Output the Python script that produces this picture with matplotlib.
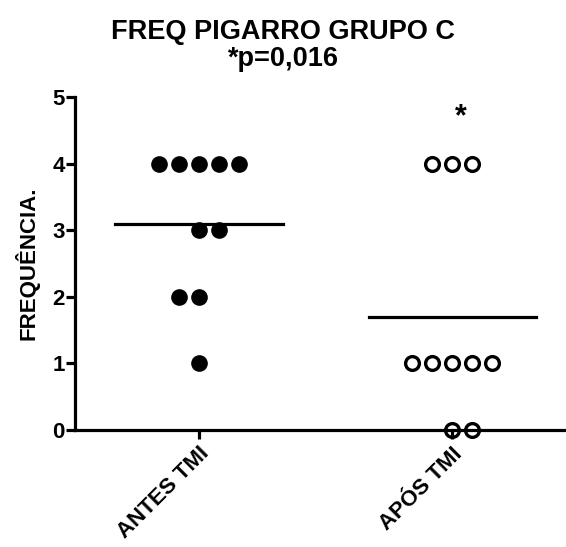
import numpy as np
import matplotlib
matplotlib.use("Agg")
import matplotlib.pyplot as plt

groups = ["ANTES TMI", "APÓS TMI"]
antes = [4, 4, 4, 4, 4, 3, 3, 2, 2, 1]
apos = [4, 4, 4, 1, 1, 1, 1, 1, 0, 0]
title_1 = "FREQ PIGARRO GRUPO C"
title_2 = "*p=0,016"
ylabel = "FREQUÊNCIA."
yticks = [0, 1, 2, 3, 4, 5]

plt.rcParams["font.family"] = ["Liberation Sans", "DejaVu Sans"]
plt.rcParams["font.weight"] = "bold"
plt.rcParams["axes.linewidth"] = 2.3
plt.rcParams["xtick.major.width"] = 2.3
plt.rcParams["ytick.major.width"] = 2.3
plt.rcParams["xtick.major.size"] = 6.5
plt.rcParams["ytick.major.size"] = 6.5


def scatter_x(values, center, step):
    # column scatter: first point centred, then alternate right / left
    xs = []
    side = 1
    for v in sorted(set(values), reverse=True):
        n = values.count(v)
        pos = [center]
        k_r = k_l = 0
        for i in range(1, n):
            if side > 0:
                k_r += 1
                pos.append(center + k_r * step)
            else:
                k_l += 1
                pos.append(center - k_l * step)
            side = -side
        for p in pos:
            xs.append((p, v))
    return xs


fig = plt.figure(figsize=(5.66, 5.47), dpi=100)
ax = fig.add_axes([0.1325, 0.2139, 0.8675, 0.6088])

step = 0.079
pts_a = scatter_x(antes, 0, step)
pts_b = scatter_x(apos, 1, step)

ax.plot([p[0] for p in pts_a], [p[1] for p in pts_a], "o", color="black",
        markersize=12, markeredgewidth=0, clip_on=False, zorder=3)
ax.plot([p[0] for p in pts_b], [p[1] for p in pts_b], "o", color="black",
        markerfacecolor="none", markersize=9.9, markeredgewidth=2.4,
        clip_on=False, zorder=3)

for i, vals in enumerate([antes, apos]):
    m = np.mean(vals)
    ax.plot([i - 0.33, i + 0.33], [m, m], "-", color="black", linewidth=2.3)

ax.text(1.036, 4.7, "*", ha="center", va="center", fontsize=22, fontweight="bold")

ax.set_xlim(-0.49, 1.45)
ax.set_ylim(0, 5)
ax.set_yticks(yticks)
ax.set_xticks([0, 1])
ax.set_xticklabels(groups, rotation=45, ha="right", rotation_mode="anchor",
                   fontsize=16, fontweight="bold")
ax.tick_params(axis="y", labelsize=16, pad=1)
ax.tick_params(axis="x", pad=3)
ax.set_ylabel(ylabel, fontsize=16, fontweight="bold", labelpad=9)
ax.spines["top"].set_visible(False)
ax.spines["right"].set_visible(False)

fig.text(0.5, 0.929, title_1, ha="center", va="baseline", fontsize=19.5, fontweight="bold")
fig.text(0.5, 0.879, title_2, ha="center", va="baseline", fontsize=19.5, fontweight="bold")

fig.savefig("out.png", dpi=100)
